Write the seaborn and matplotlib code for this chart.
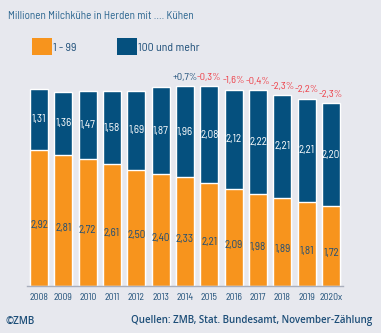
import matplotlib
matplotlib.use("Agg")
import matplotlib.pyplot as plt
import seaborn as sns
import pandas as pd
from matplotlib.patches import Patch

years = ["2008", "2009", "2010", "2011", "2012", "2013", "2014", "2015", "2016", "2017", "2018", "2019", "2020x"]
small_herds = [2.92, 2.81, 2.72, 2.61, 2.50, 2.40, 2.33, 2.21, 2.09, 1.98, 1.89, 1.81, 1.72]
large_herds = [1.31, 1.36, 1.47, 1.58, 1.69, 1.87, 1.96, 2.08, 2.12, 2.22, 2.21, 2.21, 2.20]
changes = [None, None, None, None, None, None, "+0,7%", "-0,3%", "-1,6%", "-0,4%", "-2,3%", "-2,2%", "-2,3%"]
series_names = ["1 - 99", "100 und mehr"]

BG = "#e7e8ee"
ORANGE = "#f7941d"
BLUE = "#05507e"
TXT = "#1d4e78"
RED = "#ee3a43"

sns.set_theme(style="white")
COND = ["Barlow Semi Condensed", "DejaVu Sans"]
plt.rcParams["font.family"] = COND

df = pd.DataFrame({"year": years, "small": small_herds, "large": large_herds})
df["total"] = df["small"] + df["large"]

fig = plt.figure(figsize=(3.81, 3.33), dpi=100, facecolor=BG)
ax = fig.add_axes([0.0704, 0.1411, 0.8304, 0.6787])
ax.set_facecolor(BG)

sns.barplot(data=df, x="year", y="total", color=BLUE, width=0.74, ax=ax, saturation=1)
sns.barplot(data=df, x="year", y="small", color=ORANGE, width=0.74, ax=ax, saturation=1)

ax.set_xlim(-0.5, 12.5)
ax.set_ylim(0, 4.85)
ax.set_xlabel("")
ax.set_ylabel("")
ax.set_yticks([])
for s in ["top", "right", "left"]:
    ax.spines[s].set_visible(False)
ax.spines["bottom"].set_color("#a9afbd")
ax.spines["bottom"].set_linewidth(1.0)
ax.tick_params(axis="x", length=0, pad=5, labelsize=7, labelcolor=TXT)

for i, (s, l, c) in enumerate(zip(small_herds, large_herds, changes)):
    ax.text(i, s / 2 - 0.16, f"{s:.2f}".replace(".", ","), ha="center", va="center",
            fontsize=8, color=TXT)
    ax.text(i, s + l / 2, f"{l:.2f}".replace(".", ","), ha="center", va="center",
            fontsize=8, color="white")
    if c:
        ax.text(i, s + l + 0.19, c, ha="center", va="center", fontsize=7.5,
                color=TXT if c.startswith("+") else RED)

handles = [Patch(facecolor=ORANGE, edgecolor="none"), Patch(facecolor=BLUE, edgecolor="none")]
fig.legend(handles, series_names, loc="upper left", bbox_to_anchor=(32 / 381, 1 - 38 / 333),
           ncol=2, frameon=False, handlelength=1.7, handleheight=1.9, handletextpad=0.1,
           columnspacing=3.4, borderpad=0, borderaxespad=0,
           prop={"size": 8.5}, labelcolor=TXT)

fig.text(8 / 381, 1 - 16 / 333, "Millionen Milchkühe in Herden mit .... Kühen", ha="left",
         va="center", fontsize=8, color="#2c6690")
FOOT = ["Open Sans", "DejaVu Sans"]
fig.text(5 / 381, 1 - 321 / 333, "©ZMB", ha="left", va="center", fontsize=7,
         color=TXT, family=FOOT, weight="semibold")
fig.text(372 / 381, 1 - 321 / 333, "Quellen: ZMB, Stat. Bundesamt, November-Zählung", ha="right",
         va="center", fontsize=7, color=TXT, family=FOOT, weight="semibold")

fig.savefig("out.png", dpi=100, facecolor=BG)
